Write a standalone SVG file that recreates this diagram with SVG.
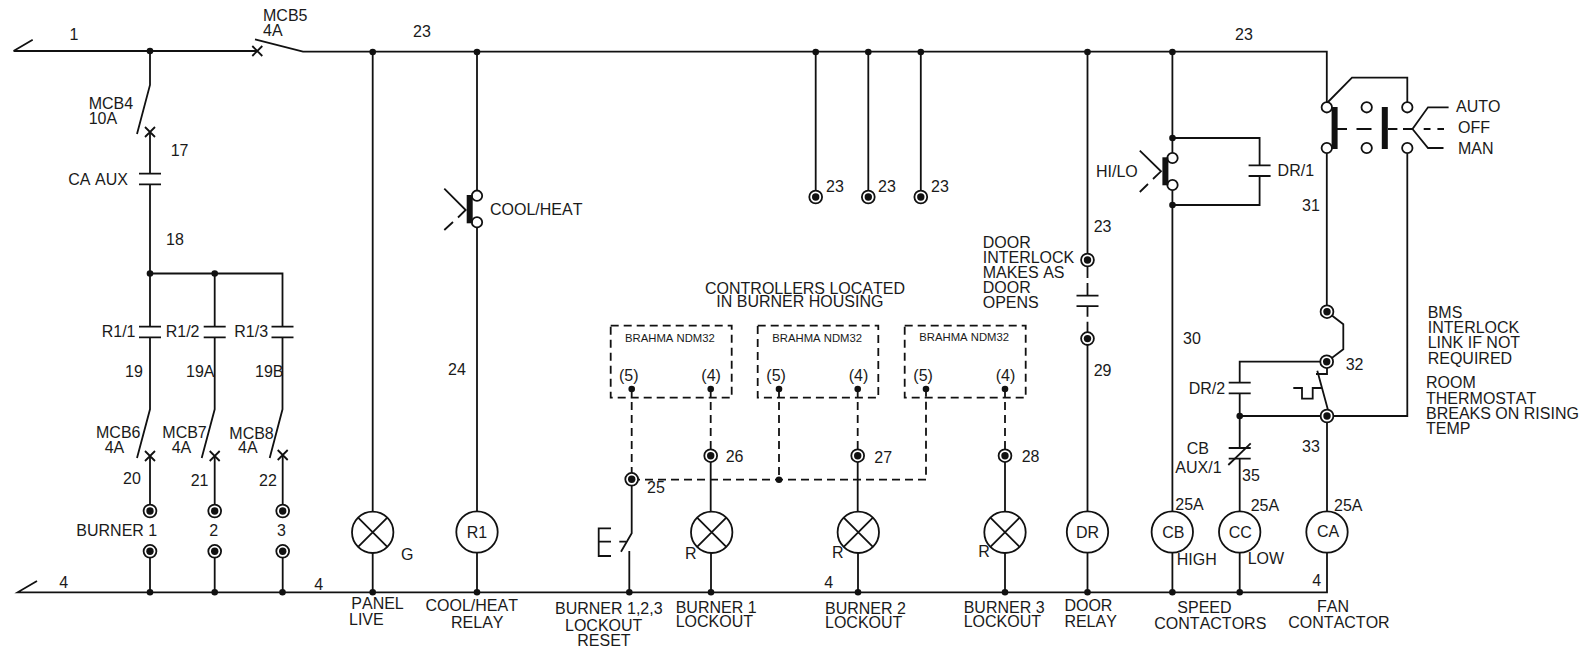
<svg xmlns="http://www.w3.org/2000/svg" width="1585" height="649" viewBox="0 0 1585 649">
<style>
text{font-family:"Liberation Sans",Arial,sans-serif;font-size:16px;fill:#1a1a1a;font-kerning:none}
text.s{font-size:11.3px}
text.m{text-anchor:middle}
.w{fill:none;stroke:#111;stroke-width:1.8}
.d{fill:none;stroke:#111;stroke-width:1.8;stroke-dasharray:8 5}
.o{fill:#fff;stroke:#111;stroke-width:1.8}
.b{fill:#111}
</style>
<defs>
<circle id="j" r="3.3" class="b"/>
<g id="t"><circle r="6.4" class="o"/><circle r="3.7" class="b"/></g>
<circle id="c" r="5.2" class="o"/>
<path id="x" d="M-5-5 5 5M-5 5 5-5" class="w"/>
<path id="k" d="M-11-5.3H11M-11 5.3H11" class="w"/>
<g id="lamp"><circle r="20.7" class="o"/><path d="M-14.6-14.6 14.6 14.6M-14.6 14.6 14.6-14.6" class="w"/></g>
<circle id="coil" r="20.7" class="o"/>
</defs>
<g id="connectors">
<path class="w" d="M13.5 51H257M13.5 51 32.7 39.7M255 39.3 303 51.7H1326.8V107M1326.8 148V311.7M1327 416V511M1327 553V592.3H17.7L37 581"/>
<path class="w" d="M150 51V85L137 134M150 132V174M150 184V273.5H282.5V327M214.7 273.5V327M150 273.5V327M150 337V409.3L137 458M214.7 337V409.3L201.7 458M282.5 337V409.3L269.7 458M150 456V511M214.7 456V511M282.7 456V511M150 551V592M214.7 551V592M282.7 551V592"/>
<path class="w" d="M372.7 52V512M372.7 553V592M477 52V196M477 222V511M477 553V592"/>
<path class="w" d="M815.7 52V197M868.3 52V197M920.8 52V197M1087.5 52V260M1087.5 338.6V511M1087.5 553V592M1087.5 266V278M1087.5 283V295.7M1087.5 306V316.7M1087.5 321.7V333"/>
<path class="w" d="M1172.4 52V158M1172.4 185V511M1172.4 553V592M1172.4 138H1259.6V165.7M1259.6 175.7V205H1172.4"/>
<path class="w" d="M1327 311.7 1343.3 324.3V349.3L1327 361.7H1239.7V382.7M1239.7 393.3V447.7M1239.7 459V511M1239.7 553V592M1239.7 416H1407.3V148M1407.3 102V77.7H1352L1327 103"/>
<path class="w" d="M1327 361.7V374H1316M1317.3 370.7 1328 410M1293.3 388H1302V398.7H1312.7V388H1322.7"/>
<path class="d" d="M631.7 389V479.7H926V389M779 389V479.7M710.7 389V456M857.7 389V456M1005 389V456"/>
<path class="w" d="M631.7 479.7V533.3L621 551.7M629.3 551V592M710.7 456V512M711 553V592M857.7 456V512M858 553V592M1005 456V512M1005 553V592"/>
</g>
<g id="bus-labels">
<text x="69.5" y="40">1</text><text x="413" y="37">23</text><text x="1235" y="40">23</text>
<text x="59.3" y="588">4</text><text x="314.3" y="590">4</text><text x="824.3" y="588">4</text><text x="1312.3" y="586">4</text>
<g id="bus-junctions">
<use href="#j" x="150" y="51"/><use href="#j" x="372.7" y="52"/><use href="#j" x="477" y="52"/><use href="#j" x="815.7" y="52"/><use href="#j" x="868.3" y="52"/><use href="#j" x="920.8" y="52"/><use href="#j" x="1087.5" y="52"/><use href="#j" x="1172.4" y="52"/>
<use href="#j" x="150" y="592.3"/><use href="#j" x="214.7" y="592.3"/><use href="#j" x="282.5" y="592.3"/><use href="#j" x="372.7" y="592.3"/><use href="#j" x="477" y="592.3"/><use href="#j" x="629.3" y="592.3"/><use href="#j" x="711" y="592.3"/><use href="#j" x="858" y="592.3"/><use href="#j" x="1005" y="592.3"/><use href="#j" x="1087.5" y="592.3"/><use href="#j" x="1172.4" y="592.3"/><use href="#j" x="1239.7" y="592.3"/>
</g>
</g>
<g id="mcb5"><use href="#x" x="257.3" y="51"/><text x="263" y="21">MCB5</text><text x="263" y="36">4A</text></g>
<g id="mcb4"><use href="#x" x="150" y="132"/><text x="88.7" y="109">MCB4</text><text x="88.7" y="124">10A</text><text x="170.7" y="156">17</text></g>
<g id="ca-aux"><use href="#k" x="150" y="179"/><text x="68.3" y="185">CA AUX</text><text x="166" y="245">18</text><use href="#j" x="150" y="273.5"/><use href="#j" x="214.7" y="273.5"/></g>
<g id="r1-1"><use href="#k" x="150" y="332"/><text x="101.7" y="337">R1/1</text><text x="125" y="376.7">19</text></g>
<g id="r1-2"><use href="#k" x="214.7" y="332"/><text x="165.7" y="337">R1/2</text><text x="186" y="376.7">19A</text></g>
<g id="r1-3"><use href="#k" x="282.5" y="332"/><text x="234.3" y="337">R1/3</text><text x="255" y="376.7">19B</text></g>
<g id="mcb6"><use href="#x" x="150" y="456"/><text x="96" y="438">MCB6</text><text x="104.7" y="452.7">4A</text><text x="123" y="484">20</text></g>
<g id="mcb7"><use href="#x" x="214.7" y="456"/><text x="162.3" y="438">MCB7</text><text x="171.7" y="452.7">4A</text><text x="190.7" y="486">21</text></g>
<g id="mcb8"><use href="#x" x="282.7" y="455"/><text x="229.3" y="439">MCB8</text><text x="238" y="453">4A</text><text x="259" y="486">22</text></g>
<g id="burner1"><use href="#t" x="150" y="511"/><use href="#t" x="150" y="551.3"/><text x="76.3" y="536">BURNER 1</text></g>
<g id="burner2"><use href="#t" x="214.7" y="511"/><use href="#t" x="214.7" y="551.3"/><text x="209.3" y="536">2</text></g>
<g id="burner3"><use href="#t" x="282.7" y="511"/><use href="#t" x="282.7" y="551.3"/><text x="277" y="536">3</text></g>
<g id="panel-live"><use href="#lamp" x="372.7" y="532.3"/><text x="401" y="560">G</text><text x="351.3" y="609.3">PANEL</text><text x="349" y="624.7">LIVE</text></g>
<g id="cool-heat-switch"><use href="#c" x="477" y="195.7"/><use href="#c" x="477" y="222.3"/><rect x="466.7" y="195" width="6" height="28.3" class="b"/><path class="w" d="M444.3 188.7 465.7 210 458 217.5M453 222 444.3 230"/><text x="490" y="215">COOL/HEAT</text><text x="448" y="375">24</text></g>
<g id="r1"><use href="#coil" x="477" y="532"/><text class="m" x="477" y="537.5">R1</text><text x="425.5" y="611">COOL/HEAT</text><text x="451" y="628">RELAY</text></g>
<g id="t23a"><use href="#t" x="815.7" y="197"/><text x="826" y="192">23</text></g>
<g id="t23b"><use href="#t" x="868.3" y="197"/><text x="878" y="192">23</text></g>
<g id="t23c"><use href="#t" x="920.8" y="197"/><text x="931" y="192">23</text></g>
<g id="controllers-note"><text x="705" y="294">CONTROLLERS LOCATED</text><text x="716.3" y="307">IN BURNER HOUSING</text></g>
<g id="ndm1"><rect x="610.7" y="325.7" width="121" height="72" class="d"/><text class="s" x="625" y="342">BRAHMA NDM32</text><text x="619" y="380.7">(5)</text><text x="701.3" y="380.7">(4)</text><use href="#j" x="631.7" y="389"/><use href="#j" x="710.7" y="389"/></g>
<g id="ndm2"><rect x="757.7" y="325.7" width="120.6" height="72" class="d"/><text class="s" x="772.3" y="342">BRAHMA NDM32</text><text x="766.3" y="380.7">(5)</text><text x="848.7" y="380.7">(4)</text><use href="#j" x="779" y="389"/><use href="#j" x="857.7" y="389"/></g>
<g id="ndm3"><rect x="904.7" y="325.7" width="121" height="72" class="d"/><text class="s" x="919.3" y="341">BRAHMA NDM32</text><text x="913.3" y="380.7">(5)</text><text x="995.7" y="380.7">(4)</text><use href="#j" x="926" y="389"/><use href="#j" x="1005" y="389"/></g>
<g id="t25"><use href="#t" x="631.7" y="479.3"/><text x="647" y="493.3">25</text><use href="#j" x="779" y="479.7"/></g>
<g id="reset"><path class="w" d="M611 528.3H598.7V556H611M598.7 541.7H611M619.3 541.7H626"/><text x="555" y="614">BURNER 1,2,3</text><text x="565" y="631.3">LOCKOUT</text><text x="577.3" y="645.7">RESET</text></g>
<g id="lamp1"><use href="#t" x="710.7" y="455.7"/><text x="725.7" y="462.3">26</text><use href="#lamp" x="711.7" y="532.3"/><text x="685" y="559.3">R</text><text x="675.7" y="613">BURNER 1</text><text x="675.7" y="626.7">LOCKOUT</text></g>
<g id="lamp2"><use href="#t" x="857.7" y="455.7"/><text x="874.3" y="463.3">27</text><use href="#lamp" x="858.3" y="532.3"/><text x="832" y="557.7">R</text><text x="825" y="614">BURNER 2</text><text x="825" y="628">LOCKOUT</text></g>
<g id="lamp3"><use href="#t" x="1005" y="455.7"/><text x="1021.7" y="462.3">28</text><use href="#lamp" x="1005" y="532.3"/><text x="978.3" y="556.7">R</text><text x="963.7" y="613">BURNER 3</text><text x="963.7" y="627">LOCKOUT</text></g>
<g id="door-interlock"><use href="#t" x="1087.5" y="260"/><use href="#k" x="1087.5" y="300.9"/><use href="#t" x="1087.5" y="338.6"/><text x="1093.7" y="231.7">23</text><text x="1093.7" y="376">29</text><text x="982.7" y="248">DOOR</text><text x="982.7" y="263">INTERLOCK</text><text x="982.7" y="278">MAKES AS</text><text x="982.7" y="293">DOOR</text><text x="982.7" y="308">OPENS</text></g>
<g id="dr"><use href="#coil" x="1087.5" y="532"/><text class="m" x="1087.5" y="537.5">DR</text><text x="1064.4" y="611">DOOR</text><text x="1064.4" y="627">RELAY</text></g>
<g id="hi-lo"><use href="#c" x="1172.5" y="158"/><use href="#c" x="1172.5" y="185"/><rect x="1162.4" y="157.3" width="6" height="28" class="b"/><path class="w" d="M1139.8 150.7 1161 171.3 1153 179M1148 184 1139.8 192"/><use href="#j" x="1172.5" y="138"/><use href="#j" x="1172.5" y="205"/><text x="1096" y="177">HI/LO</text></g>
<g id="dr1"><use href="#k" x="1259.6" y="170.7"/><text x="1277.6" y="176">DR/1</text></g>
<g id="selector"><use href="#c" x="1326.8" y="107.3"/><use href="#c" x="1326.8" y="148"/><use href="#c" x="1366.7" y="107.3"/><use href="#c" x="1366.7" y="148"/><use href="#c" x="1407.3" y="107.3"/><use href="#c" x="1407.3" y="148"/><rect x="1331.6" y="107" width="6" height="42" class="b"/><rect x="1381.8" y="107" width="6" height="42" class="b"/><path class="w" d="M1337 129H1347M1356.5 129H1371.5M1388 129H1397.4M1403 129H1412.5M1423.7 129H1430.5M1437.4 129H1444M1448.6 107.3H1428L1412.5 129 1428 148H1443.5"/><text x="1456" y="112">AUTO</text><text x="1458" y="132.7">OFF</text><text x="1458" y="153.7">MAN</text><text x="1302" y="211">31</text></g>
<g id="bms"><use href="#t" x="1327" y="311.7"/><use href="#t" x="1326.7" y="361.7"/><text x="1345.7" y="369.7">32</text><text x="1427.7" y="317.7">BMS</text><text x="1427.7" y="332.7">INTERLOCK</text><text x="1427.7" y="348">LINK IF NOT</text><text x="1427.7" y="363.7">REQUIRED</text></g>
<g id="thermostat"><use href="#t" x="1327" y="416"/><use href="#j" x="1239.7" y="416"/><text x="1426" y="388.3">ROOM</text><text x="1426" y="403.7">THERMOSTAT</text><text x="1426" y="419">BREAKS ON RISING</text><text x="1426" y="433.7">TEMP</text><text x="1302" y="452">33</text></g>
<g id="dr2"><use href="#k" x="1239.7" y="388"/><text x="1188.7" y="393.7">DR/2</text></g>
<g id="cb-aux"><use href="#k" x="1239.7" y="453.3"/><path class="w" d="M1228.3 465 1250.7 443.3"/><text x="1186.7" y="453.7">CB</text><text x="1175.3" y="472.7">AUX/1</text><text x="1242" y="481">35</text></g>
<g id="cb"><use href="#coil" x="1172.3" y="532"/><text class="m" x="1173.3" y="537.7">CB</text><text x="1175.3" y="510">25A</text><text x="1176.7" y="564.7">HIGH</text><text x="1183" y="344">30</text><text x="1177.3" y="612.7">SPEED</text><text x="1154.3" y="628.7">CONTACTORS</text></g>
<g id="cc"><use href="#coil" x="1239.7" y="532"/><text class="m" x="1240.3" y="538">CC</text><text x="1250.7" y="511">25A</text><text x="1247.7" y="563.7">LOW</text></g>
<g id="ca"><use href="#coil" x="1327" y="532"/><text class="m" x="1328" y="537">CA</text><text x="1334" y="511">25A</text><text x="1317" y="611.7">FAN</text><text x="1288.3" y="627.7">CONTACTOR</text></g>
</svg>
